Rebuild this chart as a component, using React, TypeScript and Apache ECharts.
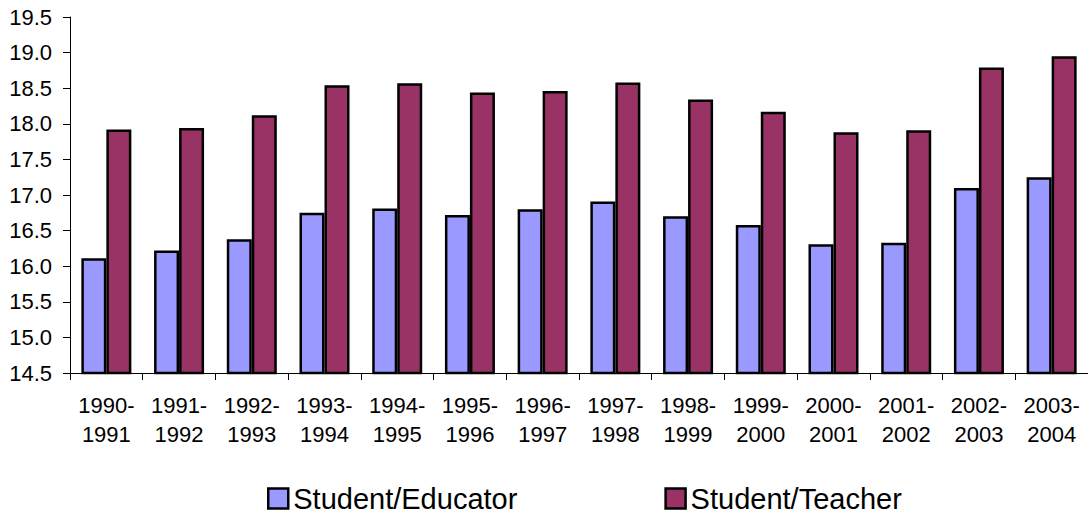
import React, { useEffect, useRef } from "react";
import * as echarts from "echarts";

const categories = [
  "1990-\n1991", "1991-\n1992", "1992-\n1993", "1993-\n1994", "1994-\n1995",
  "1995-\n1996", "1996-\n1997", "1997-\n1998", "1998-\n1999", "1999-\n2000",
  "2000-\n2001", "2001-\n2002", "2002-\n2003", "2003-\n2004",
];
const studentEducator = [16.11, 16.22, 16.38, 16.75, 16.81, 16.72, 16.80, 16.91, 16.70, 16.58, 16.31, 16.33, 17.10, 17.25];
const studentTeacher = [17.92, 17.94, 18.12, 18.54, 18.57, 18.44, 18.46, 18.58, 18.34, 18.17, 17.88, 17.91, 18.79, 18.95];
const seriesNames = ["Student/Educator", "Student/Teacher"];
const yMin = 14.5;
const yMax = 19.5;
const yStep = 0.5;

const FONT = "'Liberation Sans', Arial, sans-serif";

export default function App() {
  const ref = useRef<HTMLDivElement>(null);
  useEffect(() => {
    if (!ref.current) return;
    const chart = echarts.init(ref.current, undefined, { renderer: "svg" });
    chart.setOption({
      animation: false,
      backgroundColor: "#ffffff",
      textStyle: { fontFamily: FONT },
      grid: { left: 70, top: 17, width: 1025, height: 356, containLabel: false },
      legend: {
        data: seriesNames,
        left: 267,
        top: 484,
        padding: 0,
        itemWidth: 20,
        itemHeight: 20,
        itemGap: 147,
        icon: "rect",
        textStyle: { fontSize: 29, color: "#000", fontFamily: FONT },
        itemStyle: { borderColor: "#000", borderWidth: 2.5 },
      },
      xAxis: {
        type: "category",
        data: categories,
        axisLine: { lineStyle: { color: "#000", width: 1 } },
        axisTick: { show: true, length: 7, lineStyle: { color: "#000" } },
        axisLabel: {
          fontSize: 22,
          lineHeight: 29,
          color: "#000",
          margin: 18,
          interval: 0,
          fontFamily: FONT,
        },
      },
      yAxis: {
        type: "value",
        min: yMin,
        max: yMax,
        interval: yStep,
        axisLine: { show: true, lineStyle: { color: "#000", width: 1 } },
        axisTick: { show: true, length: 7, lineStyle: { color: "#000" } },
        splitLine: { show: false },
        axisLabel: {
          fontSize: 22,
          color: "#000",
          margin: 18,
          fontFamily: FONT,
          formatter: (v: number) => v.toFixed(1),
        },
      },
      series: [
        {
          name: seriesNames[0],
          type: "bar",
          data: studentEducator,
          barWidth: 25,
          barGap: "0%",
          itemStyle: { color: "#9999FF", borderColor: "#000", borderWidth: 2.5 },
        },
        {
          name: seriesNames[1],
          type: "bar",
          data: studentTeacher,
          barWidth: 25,
          barGap: "0%",
          itemStyle: { color: "#993366", borderColor: "#000", borderWidth: 2.5 },
        },
      ],
    });
    return () => chart.dispose();
  }, []);
  return (
    <div
      ref={ref}
      style={{ position: "absolute", left: 0, top: 0, width: 1088, height: 515 }}
    />
  );
}
